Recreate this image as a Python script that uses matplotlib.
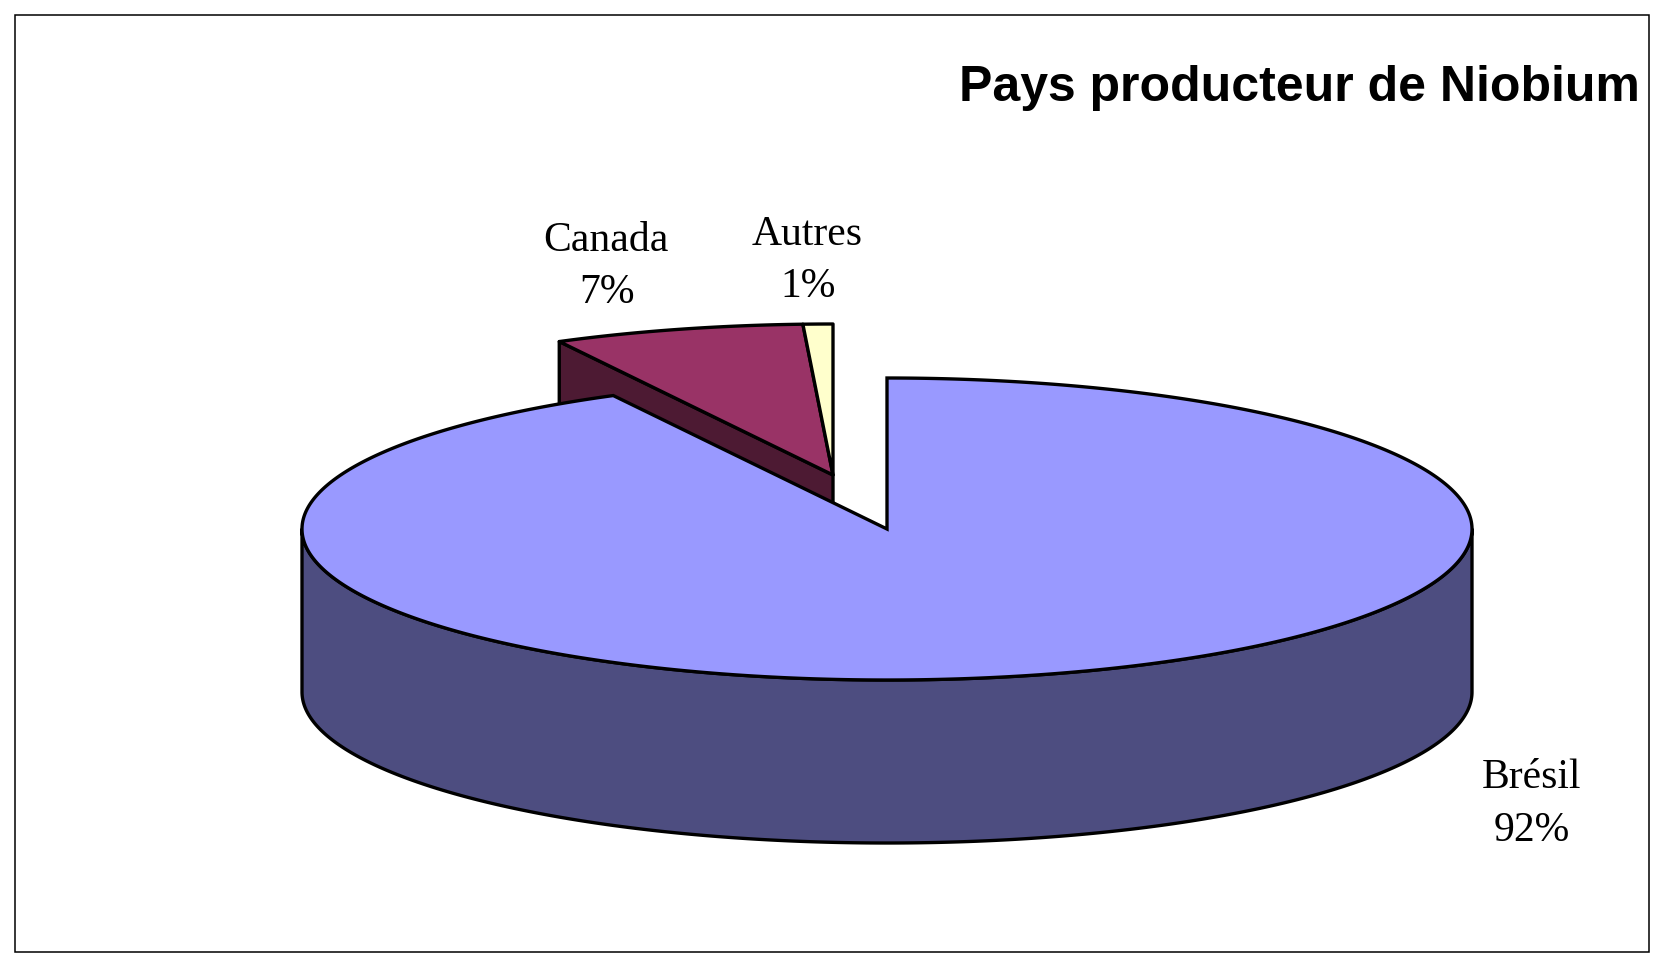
import numpy as np
import matplotlib
matplotlib.use("Agg")
import matplotlib.pyplot as plt
from matplotlib.patches import Polygon, Rectangle

title = "Pays producteur de Niobium"
categories = ["Brésil", "Canada", "Autres"]
values = [92.25, 6.93, 0.82]
percent_labels = ["92%", "7%", "1%"]

top_colors = ["#9999FF", "#993366", "#FFFFCC"]
side_colors = ["#4D4D80", "#4D1A33", "#808066"]

W, H = 1665, 965
fig = plt.figure(figsize=(W / 100, H / 100), dpi=100, facecolor="white")
ax = fig.add_axes([0, 0, 1, 1])
ax.set_xlim(0, W)
ax.set_ylim(H, 0)
ax.axis("off")

cx, cy = 887.0, 529.0
rx, ry = 585.0, 151.0
depth = 163.0
lw = 2.4
apex_other = (833.0, 475.0)


def point(c, frac):
    a = 2 * np.pi * frac
    return c[0] + rx * np.sin(a), c[1] - ry * np.cos(a)


def wedge(c, f0, f1):
    t = np.linspace(f0, f1, max(int((f1 - f0) * 720), 4))
    xy = [point(c, v) for v in t]
    return np.array([c] + xy)


def add(poly, color, z, join="round"):
    ax.add_patch(Polygon(poly, closed=True, facecolor=color, edgecolor="black",
                         linewidth=lw, joinstyle=join, zorder=z))


fracs = np.array(values) / sum(values)
f_bresil = fracs[0]
f_canada_end = f_bresil + fracs[1]

# exploded slices: Canada cut face, then tops
p_left = np.array(point(apex_other, f_bresil))
p_apex = np.array(apex_other)
d = np.array([0, depth])
add([p_left, p_apex, p_apex + d, p_left + d], side_colors[1], 1)
add(wedge(apex_other, f_bresil, f_canada_end), top_colors[1], 2)
add(wedge(apex_other, f_canada_end, 1.0), top_colors[2], 2)

# Brésil rim
t = np.linspace(0.25, 0.75, 400)
rim = np.array([point((cx, cy), v) for v in t])
add(np.vstack([rim, (rim + d)[::-1]]), side_colors[0], 3)

# Brésil top
add(wedge((cx, cy), 0.0, f_bresil), top_colors[0], 4, join="miter")

# Labels
label_pos = {"Brésil": (1532, 778, 1532, 831),
             "Canada": (606, 241, 607, 293),
             "Autres": (807, 235, 808, 287)}
serif = "Liberation Serif"
for cat, pct in zip(categories, percent_labels):
    x1, y1, x2, y2 = label_pos[cat]
    ax.text(x1, y1, cat, family=serif, fontsize=30, ha="center", va="center",
            color="black", zorder=6)
    ax.text(x2, y2, pct, family=serif, fontsize=30, ha="center", va="center",
            color="black", zorder=6)

ax.text(1640, 88, title, family="Liberation Sans", fontweight="bold", fontsize=36,
        ha="right", va="center", color="black", zorder=6)

ax.add_patch(Rectangle((15, 15), 1634, 937, fill=False, edgecolor="black",
                       linewidth=1.1, zorder=7))

fig.savefig("out.png", dpi=100, facecolor="white")
